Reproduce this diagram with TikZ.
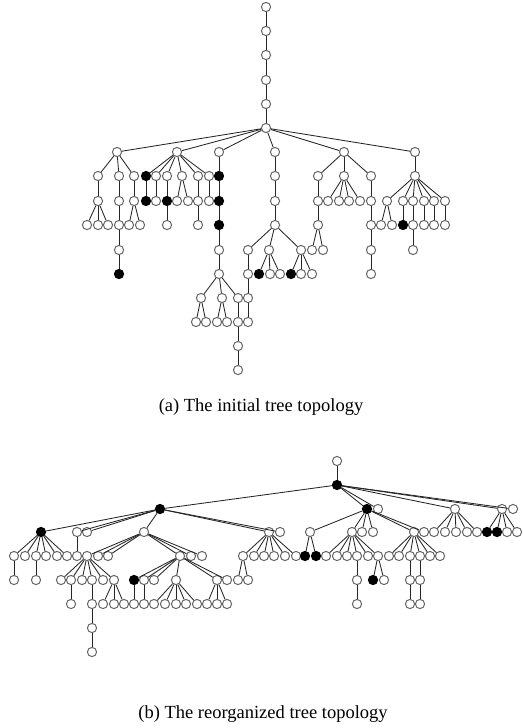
\documentclass[tikz,border=0pt]{standalone}
\usepackage{fontspec}
\setmainfont{Liberation Serif}
\begin{document}
\begin{tikzpicture}[x=1pt,y=-1pt,
    nd/.style={shape=circle,draw=black!60,fill=white,line width=1pt,inner sep=0pt,minimum size=9.2pt},
    bk/.style={nd,draw=black,fill=black},
    ln/.style={draw=black!85,line width=0.85pt}]
    \useasboundingbox (0,0) rectangle (522,728);

    % (a) initial tree
    \node[nd] (R0) at (266,7) {};
    \node[nd] (R1) at (266,31) {};
    \node[nd] (R2) at (266,55) {};
    \node[nd] (R3) at (266,80) {};
    \node[nd] (R4) at (266,104) {};
    \node[nd] (R5) at (266,128) {};

    \node[nd] (A) at (117,152) {};
    \node[nd] (B) at (177,152) {};
    \node[nd] (C) at (219,152) {};
    \node[nd] (D) at (275,152) {};
    \node[nd] (E) at (344,152) {};
    \node[nd] (F) at (415,152) {};

    \node[nd] (A1) at (98,176) {};
    \node[nd] (A2) at (119,176) {};
    \node[nd] (A3) at (134,176) {};
    \node[nd] (A11) at (98,201) {};
    \node[nd] (A111) at (87,225) {};
    \node[nd] (A112) at (98,225) {};
    \node[nd] (A113) at (108,225) {};
    \node[nd] (A21) at (119,201) {};
    \node[nd] (A22) at (119,225) {};
    \node[nd] (A23) at (119,250) {};
    \node[bk] (A24) at (119,274) {};
    \node[nd] (A31) at (134,201) {};
    \node[nd] (A311) at (129,225) {};
    \node[nd] (A312) at (140,225) {};

    \node[bk] (B1) at (146,176) {};
    \node[bk] (B11) at (146,201) {};
    \node[nd] (B2) at (156,176) {};
    \node[nd] (B21) at (156,201) {};
    \node[nd] (B3) at (167,176) {};
    \node[bk] (B31) at (167,201) {};
    \node[nd] (B32) at (167,225) {};
    \node[nd] (B4) at (182,176) {};
    \node[nd] (B41) at (177,201) {};
    \node[nd] (B42) at (188,201) {};
    \node[nd] (B5) at (198,176) {};
    \node[nd] (B51) at (198,201) {};
    \node[nd] (B52) at (198,225) {};
    \node[nd] (B6) at (209,176) {};
    \node[nd] (B61) at (209,201) {};

    \node[bk] (C1) at (219,176) {};
    \node[bk] (C2) at (219,201) {};
    \node[bk] (C3) at (219,225) {};
    \node[nd] (C4) at (219,250) {};
    \node[nd] (C5) at (219,274) {};
    \node[nd] (C51) at (201,298) {};
    \node[nd] (C52) at (222,298) {};
    \node[nd] (C53) at (238,298) {};
    \node[nd] (C511) at (196,322) {};
    \node[nd] (C512) at (206,322) {};
    \node[nd] (C521) at (217,322) {};
    \node[nd] (C522) at (227,322) {};
    \node[nd] (C531) at (238,322) {};
    \node[nd] (C532) at (238,346) {};
    \node[nd] (C533) at (238,370) {};

    \node[nd] (D1) at (275,176) {};
    \node[nd] (D2) at (275,201) {};
    \node[nd] (D3) at (275,225) {};
    \node[nd] (D31) at (248,250) {};
    \node[nd] (D32) at (269,250) {};
    \node[nd] (D33) at (301,250) {};
    \node[nd] (D311) at (248,274) {};
    \node[nd] (D312) at (248,298) {};
    \node[nd] (D313) at (248,322) {};
    \node[bk] (D321) at (259,274) {};
    \node[nd] (D322) at (270,274) {};
    \node[nd] (D323) at (280,274) {};
    \node[bk] (D331) at (291,274) {};
    \node[nd] (D332) at (301,274) {};
    \node[nd] (D333) at (312,274) {};

    \node[nd] (E1) at (318,176) {};
    \node[nd] (E2) at (344,176) {};
    \node[nd] (E3) at (371,176) {};
    \node[nd] (E11) at (318,201) {};
    \node[nd] (E12) at (318,225) {};
    \node[nd] (E121) at (312,250) {};
    \node[nd] (E122) at (323,250) {};
    \node[nd] (E21) at (328,201) {};
    \node[nd] (E22) at (339,201) {};
    \node[nd] (E23) at (349,201) {};
    \node[nd] (E24) at (360,201) {};
    \node[nd] (E31) at (371,201) {};
    \node[nd] (E32) at (371,225) {};
    \node[nd] (E33) at (371,250) {};
    \node[nd] (E34) at (371,274) {};

    \node[nd] (F1) at (415,176) {};
    \node[nd] (F11) at (387,201) {};
    \node[nd] (F12) at (403,201) {};
    \node[nd] (F13) at (413,201) {};
    \node[nd] (F14) at (424,201) {};
    \node[nd] (F15) at (434,201) {};
    \node[nd] (F16) at (445,201) {};
    \node[nd] (F111) at (381,225) {};
    \node[nd] (F112) at (392,225) {};
    \node[bk] (F121) at (403,225) {};
    \node[nd] (F131) at (413,225) {};
    \node[nd] (F132) at (413,250) {};
    \node[nd] (F141) at (424,225) {};
    \node[nd] (F151) at (434,225) {};
    \node[nd] (F161) at (445,225) {};

    \path[ln] (R0) edge (R1) (R1) edge (R2) (R2) edge (R3) (R3) edge (R4) (R4) edge (R5);
    \path[ln] (R5) edge (A) edge (B) edge (C) edge (D) edge (E) edge (F);
    \path[ln] (A) edge (A1) edge (A2) edge (A3);
    \path[ln] (A1) edge (A11);
    \path[ln] (A11) edge (A111) edge (A112) edge (A113);
    \path[ln] (A2) edge (A21) (A21) edge (A22) (A22) edge (A23) (A23) edge (A24);
    \path[ln] (A3) edge (A31);
    \path[ln] (A31) edge (A311) edge (A312);
    \path[ln] (B) edge (B1) edge (B2) edge (B3) edge (B4) edge (B5) edge (B6);
    \path[ln] (B1) edge (B11) (B2) edge (B21) (B3) edge (B31) (B31) edge (B32);
    \path[ln] (B4) edge (B41) edge (B42);
    \path[ln] (B5) edge (B51) (B51) edge (B52) (B6) edge (B61);
    \path[ln] (C) edge (C1) (C1) edge (C2) (C2) edge (C3) (C3) edge (C4) (C4) edge (C5);
    \path[ln] (C5) edge (C51) edge (C52) edge (C53);
    \path[ln] (C51) edge (C511) edge (C512);
    \path[ln] (C52) edge (C521) edge (C522);
    \path[ln] (C53) edge (C531) (C531) edge (C532) (C532) edge (C533);
    \path[ln] (D) edge (D1) (D1) edge (D2) (D2) edge (D3);
    \path[ln] (D3) edge (D31) edge (D32) edge (D33);
    \path[ln] (D31) edge (D311) (D311) edge (D312) (D312) edge (D313);
    \path[ln] (D32) edge (D321) edge (D322) edge (D323);
    \path[ln] (D33) edge (D331) edge (D332) edge (D333);
    \path[ln] (E) edge (E1) edge (E2) edge (E3);
    \path[ln] (E1) edge (E11) (E11) edge (E12);
    \path[ln] (E12) edge (E121) edge (E122);
    \path[ln] (E2) edge (E21) edge (E22) edge (E23) edge (E24);
    \path[ln] (E3) edge (E31) (E31) edge (E32) (E32) edge (E33) (E33) edge (E34);
    \path[ln] (F) edge (F1);
    \path[ln] (F1) edge (F11) edge (F12) edge (F13) edge (F14) edge (F15) edge (F16);
    \path[ln] (F11) edge (F111) edge (F112);
    \path[ln] (F12) edge (F121) (F13) edge (F131) (F131) edge (F132);
    \path[ln] (F14) edge (F141) (F15) edge (F151) (F16) edge (F161);

    \node (capa) at (261,407) {\fontsize{18.5}{21}\selectfont (a) The initial tree topology};

    % (b) reorganized tree
    \node[nd] (g0) at (337,461) {};
    \node[bk] (g1) at (337,485) {};
    \node[bk] (p) at (160,509) {};
    \node[bk] (q) at (367,509) {};
    \node[nd] (r) at (378,509) {};
    \node[nd] (s) at (455,509) {};
    \node[nd] (t) at (502,509) {};
    \node[nd] (u) at (513,509) {};

    \node[bk] (p1) at (41,532) {};
    \node[nd] (p2) at (77,532) {};
    \node[nd] (p3) at (87,532) {};
    \node[nd] (p4) at (144,532) {};
    \node[nd] (p5) at (269,532) {};
    \node[nd] (p6) at (280,532) {};
    \node[nd] (p11) at (14,556) {};
    \node[nd] (p12) at (25,556) {};
    \node[nd] (p13) at (36,556) {};
    \node[nd] (p14) at (46,556) {};
    \node[nd] (p15) at (57,556) {};
    \node[nd] (p16) at (67,556) {};
    \node[nd] (p111) at (14,580) {};
    \node[nd] (p131) at (36,580) {};
    \node[nd] (p21) at (77,556) {};
    \node[nd] (p41) at (87,556) {};
    \node[nd] (p42) at (98,556) {};
    \node[nd] (p43) at (108,556) {};
    \node[nd] (p44) at (180,556) {};
    \node[nd] (p45) at (191,556) {};
    \node[nd] (p46) at (202,556) {};
    \node[nd] (p411) at (61,580) {};
    \node[nd] (p412) at (71,580) {};
    \node[nd] (p413) at (82,580) {};
    \node[nd] (p414) at (92,580) {};
    \node[nd] (p415) at (103,580) {};
    \node[nd] (p416) at (114,580) {};
    \node[nd] (p4121) at (71,604) {};
    \node[nd] (p4141) at (92,604) {};
    \node[nd] (p4142) at (92,628) {};
    \node[nd] (p4143) at (92,652) {};
    \node[nd] (p4161) at (103,604) {};
    \node[nd] (p4162) at (114,604) {};
    \node[nd] (p4163) at (124,604) {};
    \node[bk] (p441) at (134,580) {};
    \node[nd] (p442) at (144,580) {};
    \node[nd] (p443) at (154,580) {};
    \node[nd] (p444) at (176,580) {};
    \node[nd] (p445) at (217,580) {};
    \node[nd] (p446) at (227,580) {};
    \node[nd] (p4411) at (134,604) {};
    \node[nd] (p4421) at (144,604) {};
    \node[nd] (p4441) at (154,604) {};
    \node[nd] (p4442) at (165,604) {};
    \node[nd] (p4443) at (176,604) {};
    \node[nd] (p4444) at (186,604) {};
    \node[nd] (p4445) at (197,604) {};
    \node[nd] (p4451) at (207,604) {};
    \node[nd] (p4452) at (217,604) {};
    \node[nd] (p4453) at (227,604) {};
    \node[nd] (p51) at (243,556) {};
    \node[nd] (p52) at (254,556) {};
    \node[nd] (p53) at (264,556) {};
    \node[nd] (p54) at (274,556) {};
    \node[nd] (p55) at (285,556) {};
    \node[nd] (p56) at (296,556) {};
    \node[nd] (p511) at (238,580) {};
    \node[nd] (p512) at (248,580) {};

    \node[nd] (q1) at (310,532) {};
    \node[nd] (q2) at (352,532) {};
    \node[nd] (q3) at (362,532) {};
    \node[nd] (q4) at (373,532) {};
    \node[nd] (q5) at (414,532) {};
    \node[nd] (q6) at (424,532) {};
    \node[bk] (q11) at (305,556) {};
    \node[bk] (q12) at (316,556) {};
    \node[nd] (q21) at (326,556) {};
    \node[nd] (q22) at (337,556) {};
    \node[nd] (q23) at (347,556) {};
    \node[nd] (q24) at (357,556) {};
    \node[nd] (q25) at (368,556) {};
    \node[nd] (q26) at (378,556) {};
    \node[nd] (q241) at (357,580) {};
    \node[nd] (q242) at (357,604) {};
    \node[bk] (q261) at (373,580) {};
    \node[nd] (q262) at (384,580) {};
    \node[nd] (q51) at (389,556) {};
    \node[nd] (q52) at (399,556) {};
    \node[nd] (q53) at (410,556) {};
    \node[nd] (q54) at (420,556) {};
    \node[nd] (q55) at (430,556) {};
    \node[nd] (q56) at (440,556) {};
    \node[nd] (q531) at (410,580) {};
    \node[nd] (q532) at (410,604) {};
    \node[nd] (q541) at (420,580) {};
    \node[nd] (q542) at (420,604) {};

    \node[nd] (s1) at (434,532) {};
    \node[nd] (s2) at (445,532) {};
    \node[nd] (s3) at (456,532) {};
    \node[nd] (s4) at (467,532) {};
    \node[nd] (s5) at (477,532) {};
    \node[bk] (t1) at (487,532) {};
    \node[bk] (t2) at (497,532) {};
    \node[nd] (t3) at (507,532) {};
    \node[nd] (t4) at (517,532) {};

    \path[ln] (g0) edge (g1);
    \path[ln] (g1) edge (p) edge (q) edge (r) edge (s) edge (t) edge (u);
    \path[ln] (p) edge (p1) edge (p2) edge (p3) edge (p4) edge (p5) edge (p6);
    \path[ln] (p1) edge (p11) edge (p12) edge (p13) edge (p14) edge (p15) edge (p16);
    \path[ln] (p11) edge (p111) (p13) edge (p131) (p2) edge (p21);
    \path[ln] (p4) edge (p41) edge (p42) edge (p43) edge (p44) edge (p45) edge (p46);
    \path[ln] (p41) edge (p411) edge (p412) edge (p413) edge (p414) edge (p415) edge (p416);
    \path[ln] (p412) edge (p4121);
    \path[ln] (p414) edge (p4141) (p4141) edge (p4142) (p4142) edge (p4143);
    \path[ln] (p416) edge (p4161) edge (p4162) edge (p4163);
    \path[ln] (p44) edge (p441) edge (p442) edge (p443) edge (p444) edge (p445) edge (p446);
    \path[ln] (p441) edge (p4411) (p442) edge (p4421);
    \path[ln] (p444) edge (p4441) edge (p4442) edge (p4443) edge (p4444) edge (p4445);
    \path[ln] (p445) edge (p4451) edge (p4452) edge (p4453);
    \path[ln] (p5) edge (p51) edge (p52) edge (p53) edge (p54) edge (p55) edge (p56);
    \path[ln] (p51) edge (p511) edge (p512);
    \path[ln] (q) edge (q1) edge (q2) edge (q3) edge (q4) edge (q5) edge (q6);
    \path[ln] (q1) edge (q11) edge (q12);
    \path[ln] (q2) edge (q21) edge (q22) edge (q23) edge (q24) edge (q25) edge (q26);
    \path[ln] (q24) edge (q241) (q241) edge (q242);
    \path[ln] (q26) edge (q261) edge (q262);
    \path[ln] (q5) edge (q51) edge (q52) edge (q53) edge (q54) edge (q55) edge (q56);
    \path[ln] (q53) edge (q531) (q531) edge (q532) (q54) edge (q541) (q541) edge (q542);
    \path[ln] (s) edge (s1) edge (s2) edge (s3) edge (s4) edge (s5);
    \path[ln] (t) edge (t1) edge (t2) edge (t3) edge (t4);

    \node (capb) at (263,714) {\fontsize{18.5}{21}\selectfont (b) The reorganized tree topology};
\end{tikzpicture}
\end{document}
